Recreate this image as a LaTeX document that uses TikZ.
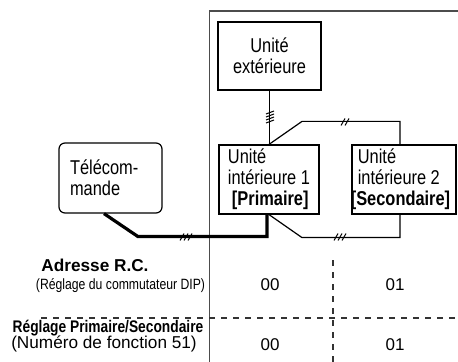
\documentclass[tikz,border=0pt]{standalone}
\usepackage{fontspec}
\setmainfont{Liberation Sans}
\newfontfamily\condsf[FakeStretch=0.82]{Liberation Sans}
\usepackage{tikz}

\begin{document}
\begin{tikzpicture}[x=0.5pt,y=-0.5pt,font=\fontsize{8.5}{10}\selectfont]
    \tikzstyle{unit}=[draw, line width=0.6pt, inner sep=0pt,
        minimum width=51.5pt, minimum height=34.5pt,
        font=\condsf\fontsize{10}{10.5}\selectfont]
    \tikzstyle{wire}=[line width=0.6pt]
    \tikzstyle{rcwire}=[line width=1.6pt]
    \tikzstyle{frame}=[line width=0.6pt, black!70]
    \tikzstyle{grid}=[line width=0.6pt, black!80, dash pattern=on 3pt off 3pt]
    \tikzset{
        hatchtwo/.pic={\foreach \d in {-2,2} \draw[line width=0.5pt] (\d-2,3.5) -- (\d+2,-3.5);},
        hatchthree/.pic={\foreach \d in {-4,0,4} \draw[line width=0.5pt] (\d-2,3.5) -- (\d+2,-3.5);},
        hatchfour/.pic={\foreach \d in {-4.5,-1.5,1.5,4.5} \draw[line width=0.5pt] (-4,\d+1.5) -- (4,\d-1.5);}
    }
    \useasboundingbox (0,0) rectangle (458,362);

    % System frame
    \draw[frame] (209.5,362) |- (458,11);

    % Units
    \node[unit, align=center, minimum height=34pt] (outdoor) at (269.5,56)
        {Unité\\extérieure};
    \node[unit, align=left, minimum width=50pt] (indoor1) at (269,179.5)
        {Unité\\intérieure 1\\\hspace*{2pt}\textbf{[Primaire]}};
    \node[unit, align=left, minimum width=52pt] (indoor2) at (404,179.5)
        {Unité\\intérieure 2\\\hspace*{-3.5pt}\textbf{[Secondaire]}};
    \node[unit, align=left, rounded corners=3pt, minimum height=35pt,
        text width=40.5pt, inner xsep=5.5pt] (remote) at (110.5,178)
        {Télécom-\\mande};

    % Wiring
    \draw[wire] (outdoor.south) -- (outdoor.south |- indoor1.north);
    \draw[wire] (indoor1.north) -- ++(33,-23) -| ([xshift=-2pt]indoor2.north);
    \draw[wire] (indoor1.south) -- ++(33,23) -| ([xshift=-2pt]indoor2.south);
    \draw[rcwire] ([xshift=-3.25pt]remote.south) -- ++(34,23) -| ([xshift=-1pt]indoor1.south);
    \pic at (270,117) {hatchfour};
    \pic at (345,122) {hatchtwo};
    \pic at (340,237) {hatchthree};
    \pic at (186,237) {hatchthree};

    % Address table
    \draw[grid] (333,260) -- (333,362);
    \draw[grid] (41,318) -- (458,318);
    \node[anchor=base, font=\fontsize{8.6}{10}\selectfont\bfseries] (rcaddr) at (95,271) {Adresse R.C.};
    \node[anchor=base, font=\condsf\fontsize{7.45}{9}\selectfont] (dipset) at (120.5,289) {(Réglage du commutateur DIP)};
    \node[anchor=base, font=\condsf\fontsize{8.4}{10}\selectfont\bfseries] (psset) at (108,332) {Réglage Primaire/Secondaire};
    \node[anchor=base, font=\fontsize{8.6}{10}\selectfont] (funcno) at (104,348) {(Numéro de fonction 51)};
    \node[anchor=base] (addr1) at (270,290) {00};
    \node[anchor=base] (addr2) at (395,290) {01};
    \node[anchor=base] (func1) at (270,350) {00};
    \node[anchor=base] (func2) at (395,350) {01};
\end{tikzpicture}
\end{document}
